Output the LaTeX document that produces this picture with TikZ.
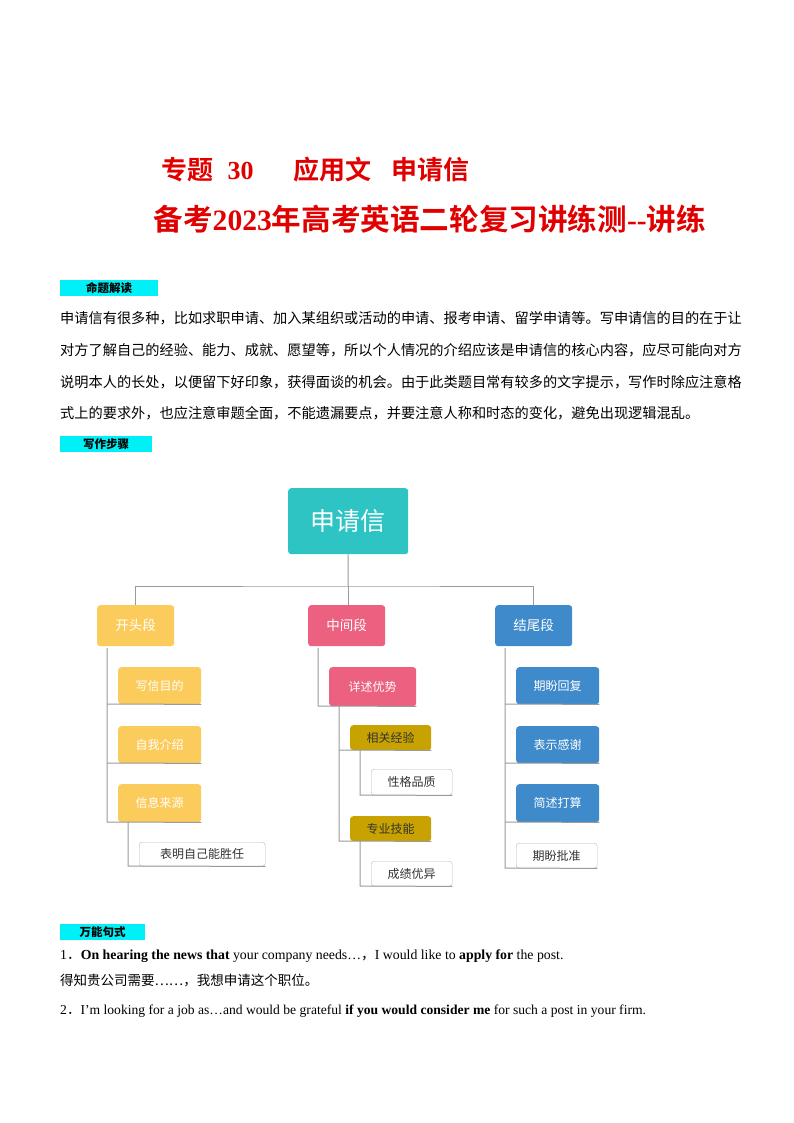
\documentclass[tikz,border=0pt]{standalone}
\usepackage{fontspec}
\setmainfont{Liberation Serif}
\newfontfamily\cjk{Noto Sans CJK SC}
\newfontfamily\cjkb{Noto Sans CJK SC}[BoldFont={Noto Sans CJK SC Bold}]
\definecolor{teal1}{HTML}{2EC4C4}
\definecolor{yel}{HTML}{FBCB5C}
\definecolor{pnk}{HTML}{EC6180}
\definecolor{blu}{HTML}{3E8ACB}
\definecolor{gld}{HTML}{C8A200}
\definecolor{ln}{HTML}{9A9A9A}
\definecolor{ttl}{HTML}{E00000}
\definecolor{cyn}{HTML}{00F0F8}
\begin{document}
\begin{tikzpicture}[x=1pt,y=-1pt,
 bx/.style={rounded corners=3pt,anchor=north west,inner sep=0pt,font=\cjk\fontsize{12}{13}\selectfont},
 fbox/.style args={#1/#2}{bx,fill=#1,text=white,minimum width=#2},
 wbox/.style={bx,draw=ln!70,fill=white,text=black!80},
 cy/.style={fill=cyn,anchor=north west,inner sep=0pt,font=\cjk\bfseries\fontsize{11.5}{11}\selectfont},
 par/.style={anchor=west,inner sep=0pt,font=\cjk\fontsize{14.2}{15}\selectfont},
 tr/.style={ln,line width=1pt}]
\useasboundingbox (0,0) rectangle (794,1123);
\node[anchor=west,text=ttl,font=\cjkb\bfseries\fontsize{26}{28}\selectfont] (t1) at (158,170) {专题\hspace{14pt}\textrm{30}\hspace{40pt}应用文\hspace{20pt}申请信};
\node[anchor=west,text=ttl,font=\bfseries\fontsize{29.6}{31}\selectfont] (t2) at (150,219) {{\cjkb 备考}2023{\cjkb 年高考英语二轮复习讲练测}{-}{-}{\cjkb 讲练}};
\node[cy,minimum width=98pt,minimum height=16pt] (c1) at (60,280) {命题解读};
\node[par] (p1) at (60,318) {申请信有很多种，比如求职申请、加入某组织或活动的申请、报考申请、留学申请等。写申请信的目的在于让};
\node[par] (p2) at (60,350) {对方了解自己的经验、能力、成就、愿望等，所以个人情况的介绍应该是申请信的核心内容，应尽可能向对方};
\node[par] (p3) at (60,382) {说明本人的长处，以便留下好印象，获得面谈的机会。由于此类题目常有较多的文字提示，写作时除应注意格};
\node[par] (p4) at (60,413) {式上的要求外，也应注意审题全面，不能遗漏要点，并要注意人称和时态的变化，避免出现逻辑混乱。};
\node[cy,minimum width=92pt,minimum height=16pt] (c2) at (60,436) {写作步骤};
% tree
\node[bx,fill=teal1,text=white,minimum width=120pt,minimum height=66pt,font=\cjk\fontsize{25}{27}\selectfont] (root) at (288,488) {申请信};
\node[fbox=yel/77pt,minimum height=41pt,font=\cjk\fontsize{13.5}{14}\selectfont] (a) at (97,605) {开头段};
\node[fbox=pnk/77pt,minimum height=41pt,font=\cjk\fontsize{13.5}{14}\selectfont] (b) at (308,605) {中间段};
\node[fbox=blu/77pt,minimum height=41pt,font=\cjk\fontsize{13.5}{14}\selectfont] (c) at (495,605) {结尾段};
\draw[tr] (root.south) -- (348,586) coordinate (m);
\draw[tr] (a.north) |- (m) -| (c.north);
\draw[tr] (m) -- (b.north -| m);
% left
\node[fbox=yel/83pt,minimum height=37pt] (a1) at (118,667) {写信目的};
\node[fbox=yel/83pt,minimum height=37pt] (a2) at (118,726) {自我介绍};
\node[fbox=yel/83pt,minimum height=38pt] (a3) at (118,784) {信息来源};
\node[wbox,minimum width=126pt,minimum height=24pt] (a4) at (139,842) {表明自己能胜任};
\draw[tr] (107,648) -- (107,822) -- (a3.south east);
\draw[tr] (107,704) -- (a1.south east);
\draw[tr] (107,763) -- (a2.south east);
\draw[tr] (128,822) -- (128,866) -- (a4.south east);
% middle
\node[fbox=pnk/87pt,minimum height=39pt] (b1) at (329,667) {详述优势};
\node[fbox=gld/81pt,minimum height=25pt,text=black!80] (b2) at (350,725) {相关经验};
\node[wbox,minimum width=81pt,minimum height=26pt] (b3) at (371,769) {性格品质};
\node[fbox=gld/81pt,minimum height=25pt,text=black!80] (b4) at (350,816) {专业技能};
\node[wbox,minimum width=81pt,minimum height=25pt] (b5) at (371,861) {成绩优异};
\draw[tr] (318,648) -- (318,706) -- (b1.south east);
\draw[tr] (339,706) -- (339,841) -- (b4.south east);
\draw[tr] (339,750) -- (b2.south east);
\draw[tr] (360,750) -- (360,795) -- (b3.south east);
\draw[tr] (360,841) -- (360,886) -- (b5.south east);
% right
\node[fbox=blu/83pt,minimum height=37pt] (c1n) at (516,667) {期盼回复};
\node[fbox=blu/83pt,minimum height=37pt] (c2n) at (516,726) {表示感谢};
\node[fbox=blu/83pt,minimum height=38pt] (c3n) at (516,784) {简述打算};
\node[wbox,minimum width=81pt,minimum height=25pt] (c4n) at (516,843) {期盼批准};
\draw[tr] (505,648) -- (505,868) -- (c4n.south east);
\draw[tr] (505,704) -- (c1n.south east);
\draw[tr] (505,763) -- (c2n.south east);
\draw[tr] (505,822) -- (c3n.south east);
% bottom
\node[cy,minimum width=85pt,minimum height=16pt] (c3) at (60,924) {万能句式};
\node[par,font=\fontsize{13.8}{14}\selectfont] (s1) at (60,956) {1{\cjk ．}\textbf{On hearing the news that} your company needs…{\cjk ，}I would like to \textbf{apply for} the post.};
\node[par,font=\cjk\fontsize{13.5}{14}\selectfont] (s2) at (60,980) {得知贵公司需要……，我想申请这个职位。};
\node[par,font=\fontsize{13.6}{14}\selectfont] (s3) at (60,1011) {2{\cjk ．}I’m looking for a job as…and would be grateful \textbf{if you would consider me} for such a post in your firm.};
\end{tikzpicture}
\end{document}
